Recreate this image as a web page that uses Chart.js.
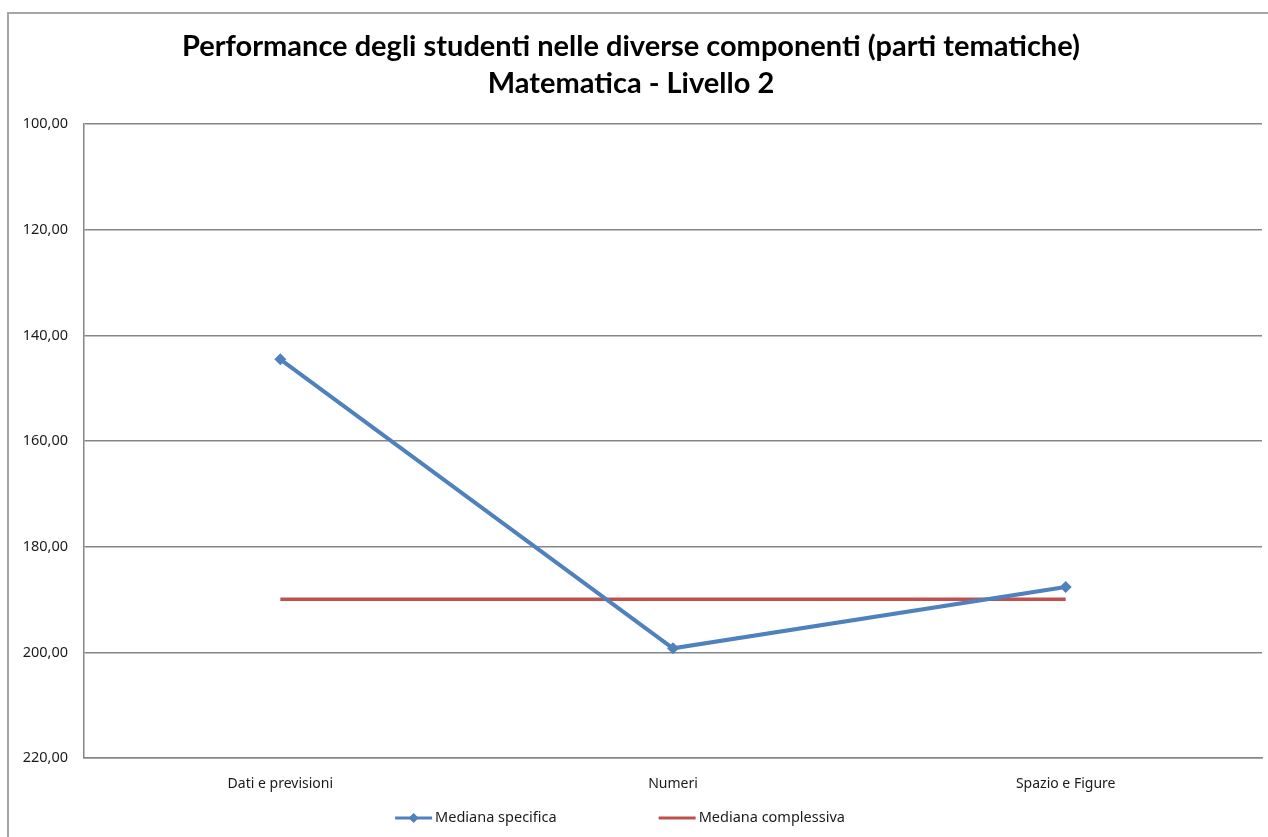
<!DOCTYPE html>
<html>
<head>
<meta charset="utf-8">
<script src="https://cdn.jsdelivr.net/npm/chart.js@4.4.0/dist/chart.umd.min.js"></script>
<style>
  html, body { margin: 0; padding: 0; background: #fff; }
  #wrap { width: 1268px; height: 837px; position: relative; }
</style>
</head>
<body>
<div id="wrap"><canvas id="chart"></canvas></div>
<script>
// Data
const categories = ['Dati e previsioni', 'Numeri', 'Spazio e Figure'];
const medianaSpecifica = [144.5, 199.2, 187.6];
const medianaComplessiva = [189.9, 189.9, 189.9];
const seriesNames = ['Mediana specifica', 'Mediana complessiva'];
const titleLines = [
  'Performance degli studenti nelle diverse componenti (parti tematiche)',
  'Matematica - Livello 2'
];
const yMin = 100;
const yMax = 220;
const yStep = 20;

const BLUE = '#4F81BD';
const RED = '#C0504D';
const GRID = '#868686';
const FONT = '"Noto Sans", sans-serif';

// white background + the outer chart frame (top and left edges visible)
const framePlugin = {
  id: 'frame',
  beforeDraw(chart) {
    const ctx = chart.ctx;
    ctx.save();
    ctx.fillStyle = '#fff';
    ctx.fillRect(0, 0, chart.width, chart.height);
    ctx.strokeStyle = '#A6A6A6';
    ctx.lineWidth = 2;
    ctx.beginPath();
    ctx.moveTo(8, chart.height);
    ctx.lineTo(8, 13);
    ctx.lineTo(chart.width, 13);
    ctx.stroke();
    ctx.restore();
  }
};

// Excel style legend: line symbol (with diamond for the marker series) + text
const legendPlugin = {
  id: 'excelLegend',
  afterDraw(chart) {
    const ctx = chart.ctx;
    const lineLen = 37, textGap = 3, itemGap = 102;
    ctx.save();
    ctx.font = '14.5px ' + FONT;
    ctx.textBaseline = 'middle';
    const items = chart.data.datasets.map(ds => ({
      label: ds.label,
      color: ds.borderColor,
      marker: ds.pointRadius > 0,
      w: lineLen + textGap + ctx.measureText(ds.label).width
    }));
    let total = items.reduce((s, it) => s + it.w, 0) + itemGap * (items.length - 1);
    let x = chart.width / 2 - 14 - total / 2;
    const y = 818;
    items.forEach(it => {
      ctx.strokeStyle = it.color;
      ctx.lineWidth = 3;
      ctx.beginPath();
      ctx.moveTo(x, y);
      ctx.lineTo(x + lineLen, y);
      ctx.stroke();
      if (it.marker) {
        const cx = x + lineLen / 2;
        ctx.fillStyle = it.color;
        ctx.beginPath();
        ctx.moveTo(cx, y - 5);
        ctx.lineTo(cx + 5, y);
        ctx.lineTo(cx, y + 5);
        ctx.lineTo(cx - 5, y);
        ctx.closePath();
        ctx.fill();
      }
      ctx.fillStyle = '#1a1a1a';
      ctx.fillText(it.label, x + lineLen + textGap, y);
      x += it.w + itemGap;
    });
    ctx.restore();
  }
};

const data = {
  labels: categories,
  datasets: [{
    label: seriesNames[0],
    data: medianaSpecifica,
    borderColor: BLUE,
    backgroundColor: BLUE,
    borderWidth: 4,
    pointStyle: 'rectRot',
    pointRadius: 6,
    pointBorderWidth: 0,
    tension: 0
  }, {
    label: seriesNames[1],
    data: medianaComplessiva,
    borderColor: RED,
    backgroundColor: RED,
    borderWidth: 3.5,
    pointRadius: 0,
    tension: 0
  }]
};

const config = {
  type: 'line',
  data: data,
  options: {
    responsive: false,
    animation: false,
    layout: { padding: { top: 28, right: 6, bottom: 28, left: 0 } },
    plugins: {
      legend: { display: false },
      tooltip: { enabled: false },
      title: {
        display: true,
        text: titleLines,
        color: '#000',
        font: { family: 'Lato, sans-serif', size: 29, weight: 'bold', lineHeight: 1.28 },
        padding: { top: 0, bottom: 22 }
      }
    },
    scales: {
      x: {
        offset: true,
        grid: { display: false, drawTicks: false },
        border: { display: true, color: GRID, width: 1.5 },
        ticks: { color: '#1a1a1a', padding: 17, font: { family: FONT, size: 14 } }
      },
      y: {
        reverse: true,
        min: yMin,
        max: yMax,
        grid: { color: GRID, lineWidth: 1.5, drawTicks: false },
        border: { display: true, color: GRID, width: 1.5 },
        ticks: {
          stepSize: yStep,
          color: '#1a1a1a',
          padding: 16,
          font: { family: FONT, size: 14.5 },
          callback: v => v.toFixed(2).replace('.', ',')
        },
        afterFit: scale => { scale.width = 84; }
      }
    }
  },
  plugins: [framePlugin, legendPlugin]
};

const canvas = document.getElementById('chart');
canvas.width = 1268;
canvas.height = 837;
new Chart(canvas, config);
</script>
</body>
</html>
